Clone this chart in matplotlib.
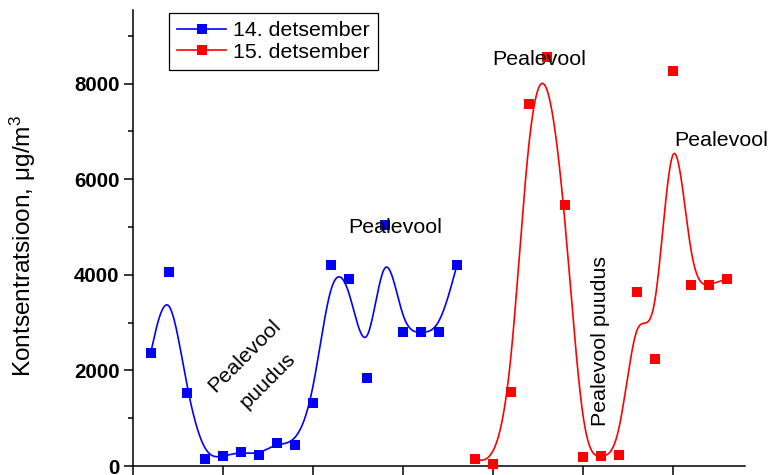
import numpy as np
import matplotlib
matplotlib.use("Agg")
import matplotlib.pyplot as plt

plt.rcParams['font.family'] = ['Liberation Sans', 'DejaVu Sans']
plt.rcParams['mathtext.fontset'] = 'custom'
plt.rcParams['mathtext.rm'] = 'Liberation Sans'
plt.rcParams['mathtext.it'] = 'Liberation Sans:italic'

# ---- data ----
x14 = list(range(1, 19))
y14 = [2370, 4050, 1530, 150, 200, 300, 230, 490, 440, 1320,
       4200, 3920, 1840, 5050, 2800, 2800, 2800, 4200]
x15 = list(range(19, 34))
y15 = [150, 50, 1540, 7570, 8550, 5460, 190, 210, 230, 3640,
       2240, 8260, 3780, 3780, 3920]
label14 = "14. detsember"
label15 = "15. detsember"
yticks = [0, 2000, 4000, 6000, 8000]
annotations = [
    ("Pealevool\npuudus", 6.85, 2045, 45, 2.0),
    ("Pealevool", 14.6, 4980, 0, 1.2),
    ("Pealevool", 22.55, 8510, 0, 1.2),
    ("Pealevool", 32.65, 6820, 0, 1.2),
    ("Pealevool puudus", 25.95, 2625, 90, 1.2),
]


def bspline(cx, cy, n=40):
    """Uniform cubic B-spline with the data as control points (end points tripled)."""
    P = np.column_stack([cx, cy]).astype(float)
    P = np.vstack([P[0], P[0], P, P[-1], P[-1]])
    t = np.linspace(0, 1, n, endpoint=False)
    b0 = (1 - t) ** 3 / 6
    b1 = (3 * t ** 3 - 6 * t ** 2 + 4) / 6
    b2 = (-3 * t ** 3 + 3 * t ** 2 + 3 * t + 1) / 6
    b3 = t ** 3 / 6
    segs = []
    for i in range(len(P) - 3):
        seg = (np.outer(b0, P[i]) + np.outer(b1, P[i + 1]) +
               np.outer(b2, P[i + 2]) + np.outer(b3, P[i + 3]))
        segs.append(seg)
    C = np.vstack(segs + [P[-1][None, :]])
    return C[:, 0], C[:, 1]


fig = plt.figure(figsize=(7.73, 4.75), dpi=100)
ax = fig.add_axes([0.1717, 0.0189, 0.7921, 0.96])

for xs, ys, col, lab in [(x14, y14, 'blue', label14), (x15, y15, 'red', label15)]:
    sx, sy = bspline(xs, ys)
    ax.plot(sx, sy, color=col, lw=1.2, zorder=2)
    ax.plot(xs, ys, 's', color=col, ms=7.3, mew=0, zorder=3, clip_on=False)
    ax.plot([], [], '-s', color=col, lw=1.2, ms=7.3, mew=0, label=lab)

ax.set_xlim(0, 34)
ax.set_ylim(0, 9540)
ax.set_xticks([0, 5, 10, 15, 20, 25, 30])
ax.set_xticklabels([])
ax.set_yticks(yticks)
ax.set_yticklabels([str(v) for v in yticks], fontweight='bold', fontsize=14.8)
ax.set_yticks(np.arange(1000, 9001, 2000), minor=True)
ax.tick_params(axis='both', which='major', direction='out', length=6.5, width=1.1, pad=3)
ax.tick_params(axis='y', which='minor', direction='out', length=3.6, width=1.1)
for s in ['top', 'right']:
    ax.spines[s].set_visible(False)
for s in ['left', 'bottom']:
    ax.spines[s].set_linewidth(1.1)

ax.set_ylabel("Kontsentratsioon, μg/m$^3$", fontsize=17.6)
ax.yaxis.set_label_coords(-0.155, 0.4836)

for txt, xx, yy, rot, ls in annotations:
    ax.text(xx, yy, txt, fontsize=15.4, rotation=rot, ha='center', va='center',
            rotation_mode='anchor', multialignment='center', linespacing=ls,
            clip_on=False, zorder=4)

leg = ax.legend(loc='upper left', bbox_to_anchor=(0.0588, 0.994), borderaxespad=0,
                fontsize=15.4, frameon=True, fancybox=False, edgecolor='black',
                framealpha=1, handlelength=2.3, handletextpad=0.3, borderpad=0.4,
                labelspacing=0.12)
leg.get_frame().set_linewidth(0.9)

fig.savefig("out.png", dpi=100)
